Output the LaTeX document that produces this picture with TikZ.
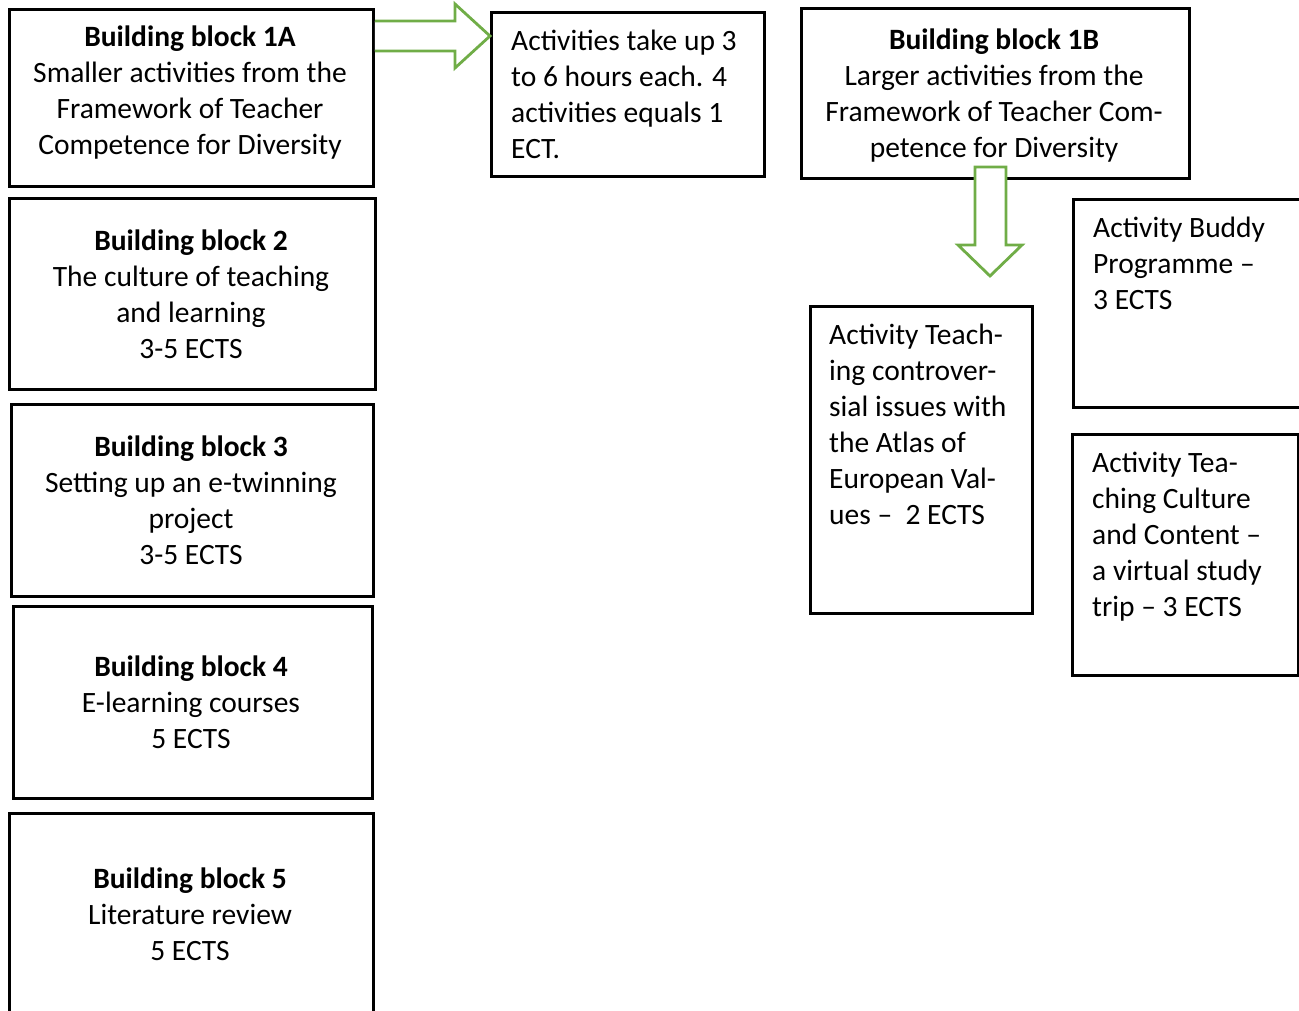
\documentclass[tikz,border=0pt]{standalone}
\usepackage{fontspec}
\setmainfont{Carlito}
\definecolor{arrgreen}{RGB}{112,173,71}
\begin{document}
\begin{tikzpicture}[x=1pt,y=-1pt,
  box/.style={draw=black,line width=2.8pt,rectangle,inner sep=0pt,anchor=north west},
  txt/.style={inner sep=0pt,font=\fontsize{29.5}{36}\selectfont},
  ctxt/.style={txt,align=center,anchor=base},
  ltxt/.style={txt,align=left,anchor=base west},
  blockarrow/.style={draw=arrgreen,line width=2.8pt,fill=white,line join=miter}]
\useasboundingbox (0,0) rectangle (1299,1010);
\clip (0,0) rectangle (1299,1010);
% boxes
\node[box,minimum width=364pt,minimum height=177pt] (b1a) at (8,8) {};
\node[box,minimum width=273pt,minimum height=164pt] (act) at (490,11) {};
\node[box,minimum width=388pt,minimum height=170pt] (b1b) at (800,7) {};
\node[box,minimum width=366pt,minimum height=191pt] (b2) at (8,197) {};
\node[box,minimum width=362pt,minimum height=192pt] (b3) at (10,403) {};
\node[box,minimum width=359pt,minimum height=192pt] (b4) at (12,605) {};
\node[box,minimum width=364pt,minimum height=240pt] (b5) at (8,812) {};
\node[box,minimum width=222pt,minimum height=307pt] (tci) at (809,305) {};
\node[box,minimum width=240pt,minimum height=208pt] (bud) at (1072,198) {};
\node[box,minimum width=226pt,minimum height=241pt] (cul) at (1071,433) {};
% texts (base anchor = baseline of last line)
\node[ctxt] (t1a) at (190,154) {\textbf{Building block 1A}\\Smaller activities from the\\Framework of Teacher\\Competence for Diversity};
\node[ltxt] (tact) at (511,158) {Activities take up 3\\to 6 hours each. 4\\activities equals 1\\ECT.};
\node[ctxt] (t1b) at (994,157) {\textbf{Building block 1B}\\Larger activities from the\\Framework of Teacher Com-\\petence for Diversity};
\node[ctxt] (t2) at (191,358) {\textbf{Building block 2}\\The culture of teaching\\and learning\\3-5 ECTS};
\node[ctxt] (t3) at (191,564) {\textbf{Building block 3}\\Setting up an e-twinning\\project\\3-5 ECTS};
\node[ctxt] (t4) at (191,748) {\textbf{Building block 4}\\E-learning courses\\5 ECTS};
\node[ctxt] (t5) at (190,960) {\textbf{Building block 5}\\Literature review\\5 ECTS};
\node[ltxt] (ttci) at (829,524) {Activity Teach-\\ing controver-\\sial issues with\\the Atlas of\\European Val-\\ues –\ \ 2 ECTS};
\node[ltxt] (tbud) at (1093,309) {Activity Buddy\\Programme –\\3 ECTS};
\node[ltxt] (tcul) at (1092,616) {Activity Tea-\\ching Culture\\and Content –\\a virtual study\\trip – 3 ECTS};
% block arrows
\draw[blockarrow] (b1a.east |- 0,21) -- (455,21) -- (455,4) -- (act.west |- 0,36) -- (455,68) -- (455,51) -- (b1a.east |- 0,51);
\draw[blockarrow] (975,167) -- (1006,167) -- (1006,245) -- (1022,245) -- (990,276) -- (958,245) -- (975,245) -- cycle;
\end{tikzpicture}
\end{document}
